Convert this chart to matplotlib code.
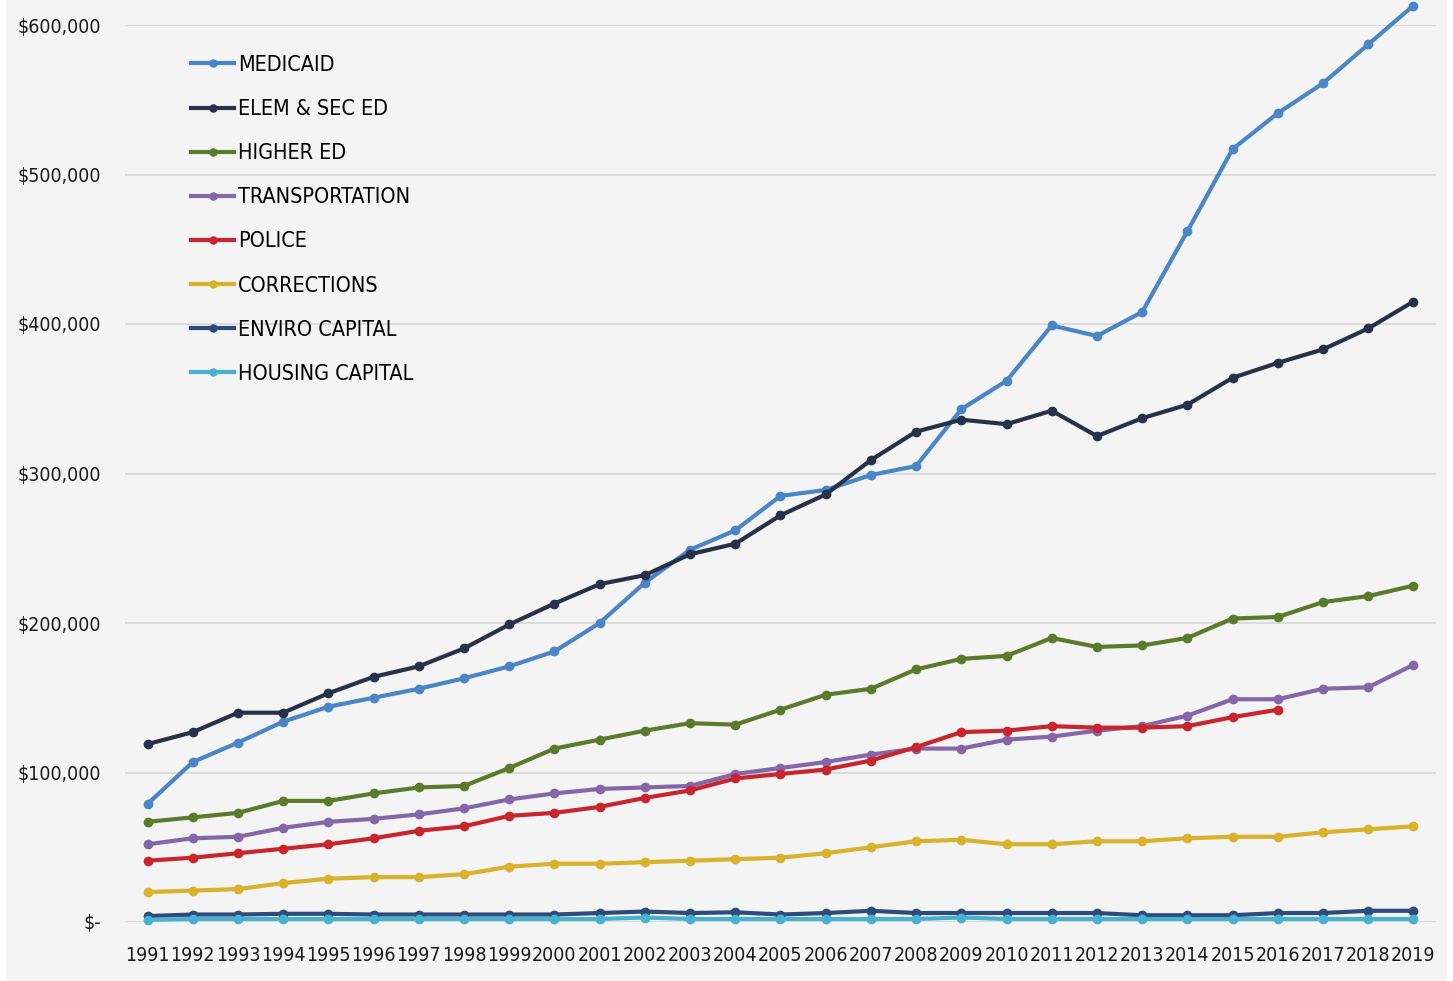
import matplotlib.pyplot as plt
import matplotlib.ticker as mticker
from matplotlib.patches import Rectangle

plt.rcParams['font.family'] = ['DejaVu Sans']
plt.rcParams['font.stretch'] = 'condensed'

years = list(range(1991, 2020))

# values in thousands of dollars
medicaid = [79, 107, 120, 134, 144, 150, 156, 163, 171, 181, 200, 227, 249, 262,
            285, 289, 299, 305, 343, 362, 399, 392, 408, 462, 517, 541, 561, 587, 613]
elem_sec_ed = [119, 127, 140, 140, 153, 164, 171, 183, 199, 213, 226, 232, 246, 253,
               272, 286, 309, 328, 336, 333, 342, 325, 337, 346, 364, 374, 383, 397, 415]
higher_ed = [67, 70, 73, 81, 81, 86, 90, 91, 103, 116, 122, 128, 133, 132,
             142, 152, 156, 169, 176, 178, 190, 184, 185, 190, 203, 204, 214, 218, 225]
transportation = [52, 56, 57, 63, 67, 69, 72, 76, 82, 86, 89, 90, 91, 99,
                  103, 107, 112, 116, 116, 122, 124, 128, 131, 138, 149, 149, 156, 157, 172]
police = [41, 43, 46, 49, 52, 56, 61, 64, 71, 73, 77, 83, 88, 96,
          99, 102, 108, 117, 127, 128, 131, 130, 130, 131, 137, 142,
          None, None, None]
corrections = [20, 21, 22, 26, 29, 30, 30, 32, 37, 39, 39, 40, 41, 42,
               43, 46, 50, 54, 55, 52, 52, 54, 54, 56, 57, 57, 60, 62, 64]
enviro_capital = [4, 5, 5, 5.5, 5.5, 5, 5, 5, 5, 5, 6, 7, 6, 6.5,
                  5, 6, 7.5, 6, 6, 6, 6, 6, 4.5, 4.5, 4.5, 6, 6, 7.5, 7.5]
housing_capital = [1.5, 2, 2, 2, 2, 2, 2, 2, 2, 2, 2, 3, 2, 2,
                   2, 2, 2, 2, 3, 2, 2, 2, 2, 2, 2, 2, 2, 2, 2]

series = [
    ('MEDICAID', medicaid, '#4a85c6'),
    ('ELEM & SEC ED', elem_sec_ed, '#27324a'),
    ('HIGHER ED', higher_ed, '#5b7a2b'),
    ('TRANSPORTATION', transportation, '#8466a9'),
    ('POLICE', police, '#c8262c'),
    ('CORRECTIONS', corrections, '#d9b22c'),
    ('ENVIRO CAPITAL', enviro_capital, '#2d4c7c'),
    ('HOUSING CAPITAL', housing_capital, '#47b1cf'),
]

bg = '#f4f4f4'
fig = plt.figure(figsize=(14.53, 9.81), dpi=100, facecolor='white')
fig.patches.append(Rectangle((6 / 1453, 0), 1441 / 1453, 1, transform=fig.transFigure,
                             facecolor=bg, edgecolor='none', zorder=-10))
ax = fig.add_axes([125 / 1453, 59 / 981, 1311 / 1453, 897 / 981])
ax.set_facecolor(bg)

for name, vals, color in series:
    xs = [y for y, v in zip(years, vals) if v is not None]
    ys = [v * 1000 for v in vals if v is not None]
    ax.plot(xs, ys, color=color, lw=3.0, marker='o', markersize=6,
            label=name, clip_on=False, solid_joinstyle='round')

ax.set_xlim(1990.5, 2019.5)
ax.set_ylim(0, 600000)
ax.set_xticks(years)
ax.set_xticklabels([str(y) for y in years])
ax.set_yticks(range(0, 600001, 100000))


def money(v, pos):
    if v == 0:
        return '$-'
    return '${:,.0f}'.format(v)


ax.yaxis.set_major_formatter(mticker.FuncFormatter(money))
ax.grid(axis='y', color='#d9d9d9', lw=1.3)
ax.set_axisbelow(True)
for s in ax.spines.values():
    s.set_visible(False)
ax.tick_params(axis='both', length=0, labelsize=14, colors='#1a1a1a')
ax.tick_params(axis='y', pad=17)
ax.tick_params(axis='x', pad=17)

ax.legend(loc='upper left', bbox_to_anchor=(191 / 1453, 1 - 55 / 981),
          bbox_transform=fig.transFigure, frameon=False, fontsize=15.5,
          handlelength=2.0, handletextpad=0.2, labelspacing=1.12,
          markerscale=0.85, borderaxespad=0, borderpad=0)

fig.savefig('out.png', dpi=100, facecolor=fig.get_facecolor())
